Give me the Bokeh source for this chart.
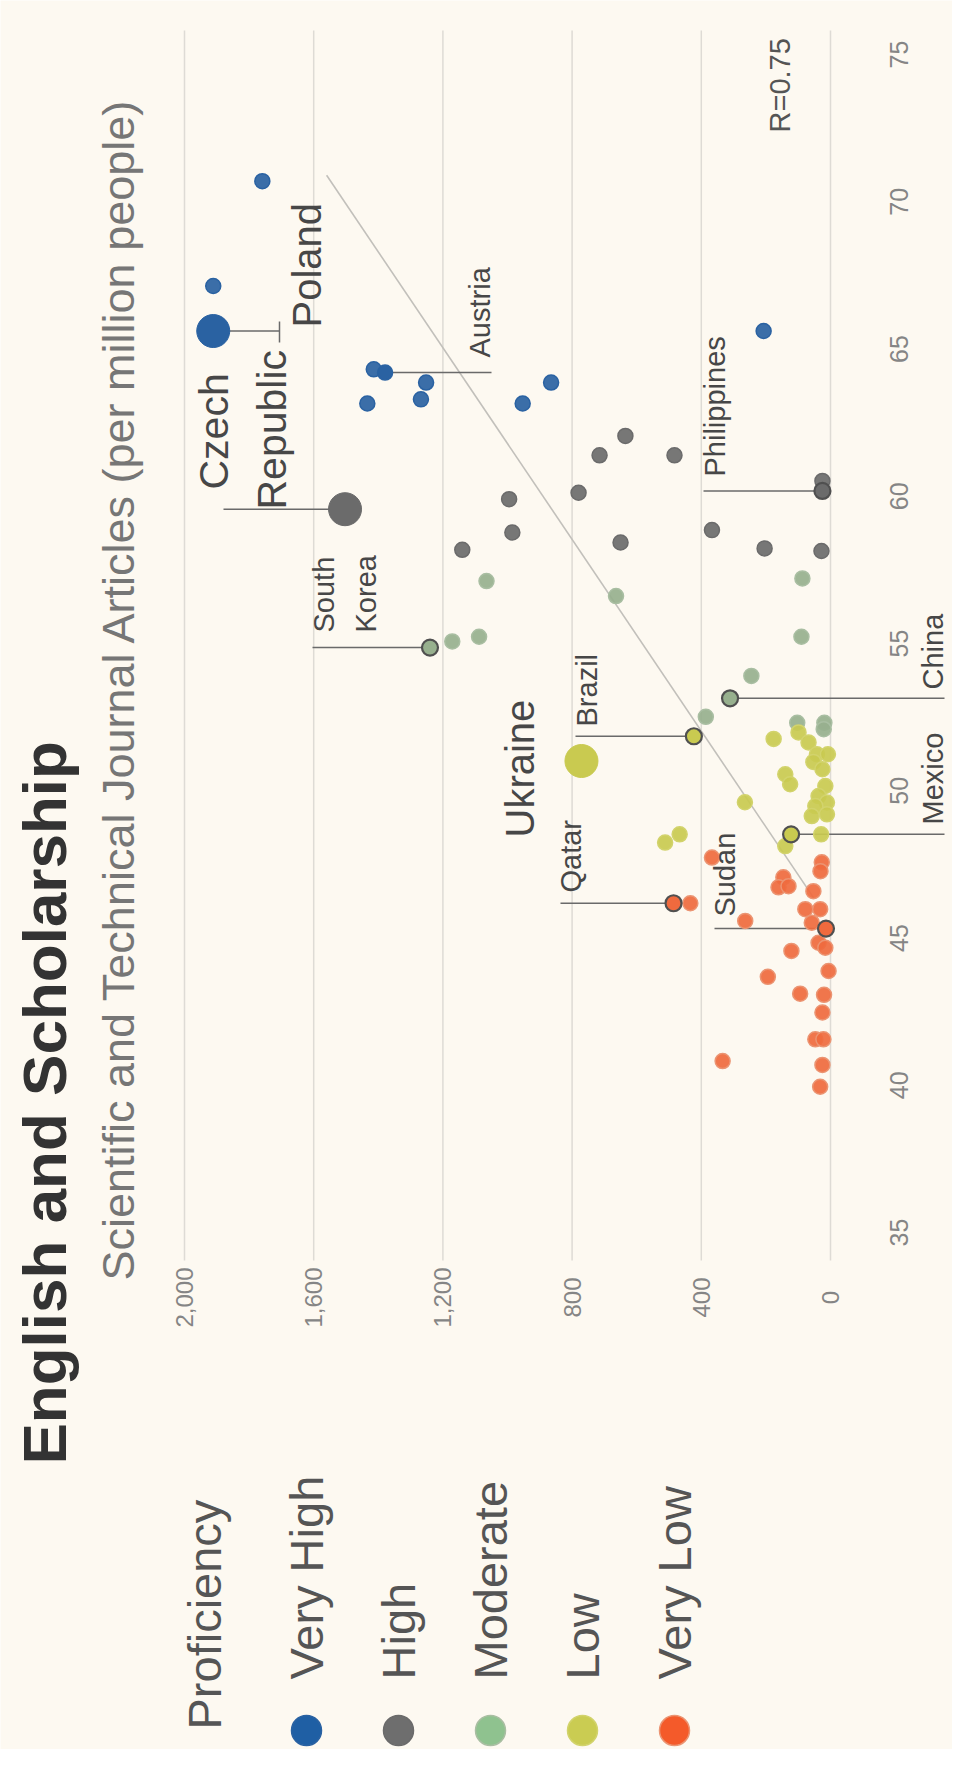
import math
from bokeh.plotting import figure
from bokeh.models import Range1d, Label
from bokeh.core.properties import value
from bokeh.embed import file_html
from bokeh.resources import INLINE

# ---------------- data (articles per million people, English proficiency score) ----------------
vh_articles = [1759, 1911, 207, 1414, 1252, 1434, 1268, 865, 953]
vh_scores = [70.70, 67.14, 65.61, 64.31, 63.86, 63.15, 63.29, 63.86, 63.15]

hi_articles = [635, 715, 483, 780, 995, 25, 985, 1140, 650, 367, 204, 28]
hi_scores = [62.05, 61.39, 61.39, 60.12, 59.90, 60.52, 58.77, 58.18, 58.43, 58.85, 58.23, 58.14]

mo_articles = [1065, 664, 87, 90, 1088, 1171, 245, 386, 103, 19, 21]
mo_scores = [57.12, 56.61, 57.21, 55.23, 55.23, 55.07, 53.90, 52.51, 52.31, 52.31, 52.09]

lo_articles = [176, 99, 68, 42, 8, 53, 140, 125, 16, 37, 11, 47, 58, 11, 265, 29, 140, 512, 467, 25]
lo_scores = [51.76, 51.98, 51.64, 51.24, 51.24, 50.98, 50.56, 50.22, 50.16, 49.82, 49.60, 49.48,
             49.14, 49.20, 49.61, 48.52, 48.12, 48.24, 48.52, 50.73]

vl_articles = [367, 27, 31, 146, 161, 130, 53, 434, 264, 78, 32, 58, 37, 16, 121, 6, 194, 94, 20,
               25, 47, 22, 334, 25, 32]
vl_scores = [47.73, 47.57, 47.27, 47.06, 46.72, 46.76, 46.59, 46.18, 45.58, 45.98, 45.98, 45.52,
             44.84, 44.67, 44.56, 43.88, 43.68, 43.11, 43.07, 42.47, 41.56, 41.56, 40.82, 40.69, 39.95]

lbl_names = ["Poland", "Czech Republic", "Austria", "Philippines", "South Korea", "China",
             "Brazil", "Ukraine", "Mexico", "Qatar", "Sudan"]
lbl_levels = ["Very High", "High", "Very High", "High", "Moderate", "Moderate",
              "Low", "Low", "Low", "Very Low", "Very Low"]
lbl_articles = [1911, 1503, 1379, 25, 1240, 311, 423, 771, 122, 486, 14]
lbl_scores = [65.61, 59.56, 64.20, 60.18, 54.86, 53.14, 51.85, 51.01, 48.52, 46.18, 45.32]
lbl_big = ["Poland", "Czech Republic", "Ukraine"]
lbl_ring = ["Philippines", "South Korea", "China", "Brazil", "Mexico", "Qatar", "Sudan"]

trend_scores = [70.90, 46.38]
trend_articles = [1560, 53]

levels = ["Very High", "High", "Moderate", "Low", "Very Low"]
article_ticks = [0, 400, 800, 1200, 1600, 2000]
article_tick_labels = ["0", "400", "800", "1,200", "1,600", "2,000"]
score_ticks = [35, 40, 45, 50, 55, 60, 65, 70, 75]
score_tick_labels = ["35", "40", "45", "50", "55", "60", "65", "70", "75"]

# ---------------- style ----------------
BG = "#fdf9f1"
FILL = {"Very High": "#2a62a2", "High": "#6b6b6b", "Moderate": "#97b08e",
        "Low": "#c9ca50", "Very Low": "#ef6a3e"}
RING = {"Very High": "#2a62a2", "High": "#6b6b6b", "Moderate": "#a9bea2",
        "Low": "#d2d36c", "Very Low": "#eb9472"}
LEG = {"Very High": "#1f5fa4", "High": "#6e6e6e", "Moderate": "#8fc28f",
       "Low": "#cacc52", "Very Low": "#f45a2a"}
FONT = "Liberation Sans"

# page pixel <-> data helpers (chart is drawn rotated: articles run right-to-left, score bottom-to-top)
X0, KX = 838.0, 0.323
Y0, KY = 1240.0, 29.45
DX, DY = 5, 7   # nudge of the annotation layer


def A(X):
    return (X0 - X) / KX


def S(Y):
    return 35 + (Y0 - Y) / KY


p = figure(width=952, height=1749, x_range=Range1d(A(8), A(960)), y_range=Range1d(S(1757), S(8)),
           output_backend="svg", toolbar_location=None, x_axis_type=None, y_axis_type=None,
           min_border=0)
p.outline_line_color = None
p.background_fill_color = BG
p.border_fill_color = BG
p.title.visible = False

# grid lines (horizontal in the original chart, vertical here)
p.segment(x0=article_ticks, y0=[S(1268)] * len(article_ticks), x1=article_ticks,
          y1=[S(38)] * len(article_ticks), line_color="#dedbd5", line_width=1.5)

# tick labels, rotated, centred on their ticks
p.text(x=article_ticks, y=[S(1305)] * len(article_ticks), text=article_tick_labels,
       angle=math.pi / 2, text_align="center", text_baseline="middle",
       text_font=value(FONT), text_font_size="24px", text_color="#858585")
p.text(x=[A(906)] * len(score_ticks), y=score_ticks, text=score_tick_labels,
       angle=math.pi / 2, text_align="center", text_baseline="middle",
       text_font=value(FONT), text_font_size="25px", text_color="#858585")

# trend line
p.line(trend_articles, trend_scores, line_color="#c2c0bb", line_width=1.6)

# leader lines for labelled countries (screen end positions of each leader)
leader_end_x = {"Poland": 282 + DX, "Czech Republic": 226 + DX, "Austria": 494 + DX,
                "Philippines": 706 + DX, "South Korea": 315 + DX, "China": 952,
                "Brazil": 578 + DX, "Mexico": 952, "Qatar": 563 + DX, "Sudan": 717 + DX}
lx0, ly0, lx1, ly1 = [], [], [], []
for n, a_, s_ in zip(lbl_names, lbl_articles, lbl_scores):
    if n in leader_end_x:
        lx0.append(a_)
        ly0.append(s_)
        lx1.append(A(leader_end_x[n]))
        ly1.append(s_)
p.segment(lx0, ly0, lx1, ly1, line_color="#6a6a6a", line_width=1.5)
# small end tick on Poland leader
p.segment([A(282 + DX)], [S(322 + DY)], [A(282 + DX)], [S(343 + DY)], line_color="#6a6a6a",
          line_width=1.5)

# data points
series = [("Very High", vh_articles, vh_scores), ("High", hi_articles, hi_scores),
          ("Moderate", mo_articles, mo_scores), ("Low", lo_articles, lo_scores),
          ("Very Low", vl_articles, vl_scores)]
for lev, xs, ys in series:
    p.scatter(xs, ys, size=15, fill_color=FILL[lev], line_color=RING[lev], line_width=1.5,
              fill_alpha=0.92)

for n, lev, a_, s_ in zip(lbl_names, lbl_levels, lbl_articles, lbl_scores):
    if n in lbl_big:
        p.scatter([a_], [s_], size=33, fill_color=FILL[lev], line_color=FILL[lev], line_width=1)
    elif n in lbl_ring:
        p.scatter([a_], [s_], size=16, fill_color=FILL[lev], line_color="#505050", line_width=2.2)
    else:
        p.scatter([a_], [s_], size=15, fill_color=FILL[lev], line_color=RING[lev], line_width=1.5)


def lab(text, xc, ystart, size, color="#474747", bold=False, shift=True):
    dx, dy = (DX, DY) if shift else (0, 0)
    p.add_layout(Label(x=A(xc + dx), y=S(ystart + dy), text=text, angle=math.pi / 2,
                       text_align="left", text_baseline="middle", text_font=FONT,
                       text_font_size=f"{size}px", text_color=color,
                       text_font_style="bold" if bold else "normal"))


# country labels
lab("Poland", 309, 328, 40)
lab("Czech", 216, 490, 41)
lab("Republic", 274, 510, 41)
lab("Austria", 482, 358, 29)
lab("Philippines", 717, 477, 29)
lab("South", 326, 633, 29)
lab("Korea", 368, 633, 29)
lab("Brazil", 589, 727, 29)
lab("Ukraine", 522, 838, 40)
lab("Qatar", 573, 893, 29)
lab("Sudan", 727, 917, 29)
lab("China", 940, 697, 29, shift=False)
lab("Mexico", 940, 832, 29, shift=False)
lab("R=0.75", 782, 133, 29, color="#555555")

# title / subtitle
lab("English and Scholarship", 52, 1472, 62, color="#333333", bold=True, shift=False)
lab("Scientific and Technical Journal Articles (per million people)", 126, 1288, 45,
    color="#767676", shift=False)

# legend
lab("Proficiency", 212, 1737, 47, color="#555555", shift=False)
leg_x = [314, 406, 498, 590, 682]
p.scatter([A(x) for x in leg_x], [S(1738)] * 5, size=30,
          fill_color=[LEG[l] for l in levels], line_color=[RING[l] for l in levels], line_width=1.5)
for x, l in zip(leg_x, levels):
    lab(l, x, 1687, 47, color="#555555", shift=False)

open("out.html", "w").write(file_html(p, INLINE))
